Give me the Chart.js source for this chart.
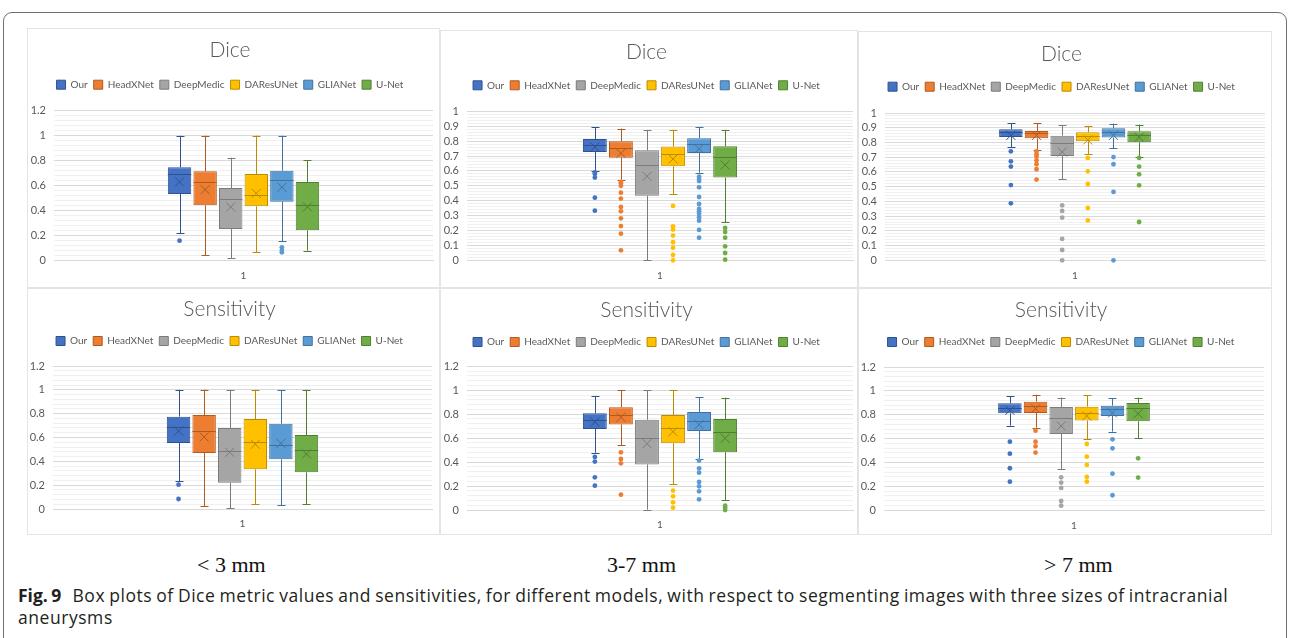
<!DOCTYPE html>
<html>
<head>
<meta charset="utf-8">
<script src="https://cdn.jsdelivr.net/npm/chart.js@4.4.1/dist/chart.umd.min.js"></script>
<style>
  html, body { margin: 0; padding: 0; background: #fff; }
  body { width: 1292px; height: 638px; position: relative; overflow: hidden; }
  .frame { position: absolute; left: 3px; top: 12px; width: 1284px; height: 700px;
           border: 1px solid #707070; border-radius: 9px; box-sizing: border-box; }
  .panel { position: absolute; }
  .panel canvas { position: absolute; left: 0; top: 0; }
  .panel .edge { position: absolute; left: 0; top: 0; right: 0; bottom: 0;
                 border: 1px solid #e4e4e4; pointer-events: none; }
  .size { position: absolute; top: 552px; font-family: "Liberation Serif", serif; font-size: 22px;
          color: #111; white-space: nowrap; }
  .caption { position: absolute; left: 18px; top: 584px; width: 1262px; font-family: "Open Sans", sans-serif;
             font-size: 17.5px; letter-spacing: 0.55px; word-spacing: -1px; line-height: 22px; color: #231f20; }
  .caption b { font-weight: 700; margin-right: 7px; letter-spacing: 0; }
</style>
</head>
<body>
<div class="frame"></div>

<div class="panel" id="p1" style="left:27px;top:28px;width:413px;height:260px"><canvas id="c1" width="413" height="260"></canvas><div class="edge"></div></div>
<div class="panel" id="p2" style="left:440px;top:30px;width:418px;height:258px"><canvas id="c2" width="418" height="258"></canvas><div class="edge"></div></div>
<div class="panel" id="p3" style="left:858px;top:31px;width:414px;height:257px"><canvas id="c3" width="414" height="257"></canvas><div class="edge"></div></div>
<div class="panel" id="p4" style="left:27px;top:288px;width:413px;height:247px"><canvas id="c4" width="413" height="247"></canvas><div class="edge"></div></div>
<div class="panel" id="p5" style="left:440px;top:288px;width:418px;height:247px"><canvas id="c5" width="418" height="247"></canvas><div class="edge"></div></div>
<div class="panel" id="p6" style="left:858px;top:288px;width:414px;height:247px"><canvas id="c6" width="414" height="247"></canvas><div class="edge"></div></div>

<div class="size" style="left:197px">&lt; 3 mm</div>
<div class="size" style="left:607px">3-7 mm</div>
<div class="size" style="left:1044px">&gt; 7 mm</div>

<div class="caption"><b>Fig. 9</b> Box plots of Dice metric values and sensitivities, for different models, with respect to segmenting images with three sizes of intracranial aneurysms</div>

<script>
// ---- data -------------------------------------------------------------
const models = ['Our', 'HeadXNet', 'DeepMedic', 'DAResUNet', 'GLIANet', 'U-Net'];
const categories = ['1'];

// each row: [lower whisker, Q1, median, Q3, upper whisker]
const diceUnder3 = [
  [0.221, 0.533, 0.693, 0.747, 1.000],
  [0.043, 0.443, 0.632, 0.715, 1.000],
  [0.021, 0.253, 0.490, 0.581, 0.824],
  [0.069, 0.435, 0.525, 0.693, 1.000],
  [0.155, 0.472, 0.645, 0.720, 1.000],
  [0.080, 0.243, 0.448, 0.629, 0.803]
];
const diceUnder3Mean = [0.630, 0.568, 0.430, 0.539, 0.587, 0.430];
const diceUnder3Outliers = [[0.16], [], [], [], [0.107, 0.085, 0.067], []];

const dice3to7 = [
  [0.602, 0.727, 0.776, 0.814, 0.893],
  [0.541, 0.689, 0.754, 0.799, 0.884],
  [0.000, 0.434, 0.642, 0.738, 0.872],
  [0.445, 0.631, 0.714, 0.763, 0.875],
  [0.588, 0.720, 0.783, 0.819, 0.895],
  [0.257, 0.555, 0.691, 0.765, 0.875]
];
const dice3to7Mean = [0.760, 0.718, 0.564, 0.680, 0.749, 0.640];
const dice3to7Outliers = [
  [0.59, 0.58, 0.555, 0.42, 0.333],
  [0.526, 0.515, 0.5, 0.454, 0.414, 0.358, 0.329, 0.282, 0.23, 0.179, 0.067],
  [],
  [0.365, 0.228, 0.206, 0.166, 0.121, 0.085, 0.036, 0.0],
  [0.561, 0.545, 0.532, 0.49, 0.425, 0.378, 0.345, 0.33, 0.313, 0.289, 0.266, 0.204, 0.152],
  [0.217, 0.19, 0.152, 0.094, 0.049, 0.004]
];

const diceOver7 = [
  [0.769, 0.837, 0.869, 0.889, 0.932],
  [0.751, 0.828, 0.862, 0.878, 0.932],
  [0.552, 0.708, 0.794, 0.846, 0.916],
  [0.722, 0.808, 0.842, 0.869, 0.912],
  [0.762, 0.833, 0.873, 0.896, 0.928],
  [0.704, 0.801, 0.848, 0.876, 0.921]
];
const diceOver7Mean = [0.848, 0.848, 0.735, 0.817, 0.848, 0.835];
const diceOver7Outliers = [
  [0.74, 0.672, 0.636, 0.511, 0.387],
  [0.74, 0.72, 0.704, 0.679, 0.652, 0.618, 0.548],
  [0.373, 0.335, 0.29, 0.145, 0.07, 0.0],
  [0.695, 0.604, 0.518, 0.355, 0.271],
  [0.701, 0.652, 0.464, 0.0],
  [0.695, 0.636, 0.584, 0.509, 0.26]
];

const sensUnder3 = [
  [0.232, 0.554, 0.685, 0.775, 1.000],
  [0.022, 0.470, 0.655, 0.789, 1.000],
  [0.008, 0.221, 0.490, 0.680, 1.000],
  [0.042, 0.333, 0.562, 0.755, 1.000],
  [0.034, 0.417, 0.534, 0.716, 1.000],
  [0.042, 0.308, 0.492, 0.621, 1.000]
];
const sensUnder3Mean = [0.655, 0.604, 0.476, 0.543, 0.551, 0.462];
const sensUnder3Outliers = [[0.204, 0.084], [], [], [], [], []];

const sens3to7 = [
  [0.479, 0.677, 0.754, 0.807, 0.949],
  [0.540, 0.715, 0.793, 0.857, 1.000],
  [0.003, 0.381, 0.601, 0.754, 1.000],
  [0.217, 0.557, 0.682, 0.793, 1.000],
  [0.429, 0.660, 0.743, 0.818, 0.941],
  [0.081, 0.482, 0.651, 0.760, 0.938]
];
const sens3to7Mean = [0.735, 0.774, 0.554, 0.654, 0.713, 0.599];
const sens3to7Outliers = [
  [0.443, 0.404, 0.273, 0.203],
  [0.482, 0.426, 0.39, 0.128],
  [],
  [0.161, 0.114, 0.064, 0.019],
  [0.412, 0.348, 0.312, 0.234, 0.198, 0.156, 0.089],
  [0.036, 0.019, 0.0]
];

const sensOver7 = [
  [0.709, 0.812, 0.860, 0.896, 0.957],
  [0.692, 0.815, 0.876, 0.910, 0.968],
  [0.346, 0.639, 0.770, 0.865, 0.943],
  [0.594, 0.751, 0.815, 0.868, 0.963],
  [0.659, 0.790, 0.848, 0.876, 0.938],
  [0.606, 0.745, 0.854, 0.899, 0.943]
];
const sensOver7Mean = [0.837, 0.851, 0.706, 0.790, 0.815, 0.809];
const sensOver7Outliers = [
  [0.575, 0.474, 0.352, 0.24],
  [0.667, 0.575, 0.536, 0.483],
  [0.276, 0.232, 0.187, 0.078, 0.039],
  [0.555, 0.449, 0.38, 0.279, 0.24],
  [0.594, 0.519, 0.307, 0.126],
  [0.435, 0.274]
];

// ---- styling ----------------------------------------------------------
const fills = ['#4472C4', '#ED7D31', '#A5A5A5', '#FFC000', '#5B9BD5', '#70AD47'];
const edges = ['#2F528F', '#AE5A21', '#7B7B7B', '#BC8C00', '#41719C', '#507E32'];
const textColor = '#595959';
const fontFamily = 'Lato, "Open Sans", sans-serif';
const legendPad = 6;

// per chart: title, data, y range and the box layout inside its canvas
const charts = [
  { id: 'c1', title: 'Dice', box: diceUnder3, mean: diceUnder3Mean, out: diceUnder3Outliers,
    yMax: 1.2, major: 0.2, left: 27, right: 7, titleC: 22.7, legendC: 56.7, plotTop: 82.7, bottom: 27.3 },
  { id: 'c2', title: 'Dice', box: dice3to7, mean: dice3to7Mean, out: dice3to7Outliers,
    yMax: 1.0, major: 0.1, left: 27, right: 5, titleC: 22, legendC: 55.3, plotTop: 81.3, bottom: 27.7 },
  { id: 'c3', title: 'Dice', box: diceOver7, mean: diceOver7Mean, out: diceOver7Outliers,
    yMax: 1.0, major: 0.1, left: 27, right: 7, titleC: 23, legendC: 55.7, plotTop: 82, bottom: 27.7 },
  { id: 'c4', title: 'Sensitivity', box: sensUnder3, mean: sensUnder3Mean, out: sensUnder3Outliers,
    yMax: 1.2, major: 0.2, left: 26, right: 8, titleC: 21, legendC: 53, plotTop: 78, bottom: 26 },
  { id: 'c5', title: 'Sensitivity', box: sens3to7, mean: sens3to7Mean, out: sens3to7Outliers,
    yMax: 1.2, major: 0.2, left: 27, right: 5, titleC: 22, legendC: 54, plotTop: 78.3, bottom: 25 },
  { id: 'c6', title: 'Sensitivity', box: sensOver7, mean: sensOver7Mean, out: sensOver7Outliers,
    yMax: 1.2, major: 0.2, left: 26, right: 8, titleC: 22, legendC: 54, plotTop: 79, bottom: 24.7 }
];

// whiskers, medians, mean crosses and outlier dots drawn on top of the Q1–Q3 bars
const boxExtras = {
  id: 'boxExtras',
  afterDatasetsDraw(chart, args, opts) {
    const { ctx } = chart;
    const y = chart.scales.y;
    chart.data.datasets.forEach((ds, i) => {
      const meta = chart.getDatasetMeta(i);
      const bar = meta.data[0];
      if (!bar) return;
      const stats = opts.box[i];
      const cx = Math.round(bar.x) + 0.5;
      const half = bar.width / 2;
      const cap = 4;
      ctx.save();
      ctx.lineWidth = 1;
      ctx.strokeStyle = edges[i];
      // whiskers
      const yLo = y.getPixelForValue(stats[0]);
      const yQ1 = y.getPixelForValue(stats[1]);
      const yQ3 = y.getPixelForValue(stats[3]);
      const yHi = y.getPixelForValue(stats[4]);
      ctx.beginPath();
      ctx.moveTo(cx, yQ3); ctx.lineTo(cx, yHi);
      ctx.moveTo(cx - cap, Math.round(yHi) + 0.5); ctx.lineTo(cx + cap, Math.round(yHi) + 0.5);
      ctx.moveTo(cx, yQ1); ctx.lineTo(cx, yLo);
      ctx.moveTo(cx - cap, Math.round(yLo) + 0.5); ctx.lineTo(cx + cap, Math.round(yLo) + 0.5);
      ctx.stroke();
      // median
      const yMed = Math.round(y.getPixelForValue(stats[2])) + 0.5;
      ctx.beginPath();
      ctx.moveTo(bar.x - half, yMed); ctx.lineTo(bar.x + half, yMed);
      ctx.stroke();
      // mean
      const ym = y.getPixelForValue(opts.mean[i]);
      const m = 4.5;
      ctx.beginPath();
      ctx.moveTo(bar.x - m, ym - m); ctx.lineTo(bar.x + m, ym + m);
      ctx.moveTo(bar.x - m, ym + m); ctx.lineTo(bar.x + m, ym - m);
      ctx.stroke();
      // outliers
      ctx.fillStyle = fills[i];
      opts.out[i].forEach(v => {
        ctx.beginPath();
        ctx.arc(bar.x, y.getPixelForValue(v), 2.4, 0, Math.PI * 2);
        ctx.fill();
      });
      ctx.restore();
    });
  }
};

function isMajor(v, major) {
  const r = v / major;
  return Math.abs(r - Math.round(r)) < 1e-6;
}

charts.forEach(c => {
  const titleSize = 21, titleLine = titleSize * 1.2;
  const legendFont = 10;
  const legendH = legendFont + legendPad + 10;        // one row of legend items
  const legendMid = legendPad + legendFont / 2;        // item centre below legend top
  const legendTop = c.legendC - legendMid;
  const padTop = c.titleC - titleLine / 2;
  const padBottom = legendTop - (c.titleC + titleLine / 2);
  const spacer = c.plotTop - (legendTop + legendH);

  new Chart(document.getElementById(c.id), {
    type: 'bar',
    data: {
      labels: categories,
      datasets: models.map((name, i) => ({
        label: name,
        data: [[c.box[i][1], c.box[i][3]]],
        backgroundColor: fills[i],
        borderColor: edges[i],
        borderWidth: 1,
        borderSkipped: false,
        categoryPercentage: 0.405,
        barPercentage: 0.915
      }))
    },
    options: {
      responsive: false,
      animation: false,
      devicePixelRatio: 1,
      layout: { padding: { left: 0, right: c.right, top: 0, bottom: 0 } },
      plugins: {
        title: {
          display: true, text: c.title, color: textColor,
          font: { family: fontFamily, size: titleSize, weight: '300', lineHeight: 1.2 },
          padding: { top: padTop, bottom: padBottom }
        },
        subtitle: {
          display: true, text: ' ', weight: 500,
          font: { size: 1, lineHeight: 1 },
          padding: { top: 0, bottom: spacer - 1 }
        },
        legend: {
          display: true, position: 'top',
          labels: {
            color: textColor, boxWidth: 9, boxHeight: 9, padding: legendPad,
            font: { family: fontFamily, size: legendFont }
          }
        },
        tooltip: { enabled: false },
        boxExtras: { box: c.box, mean: c.mean, out: c.out }
      },
      scales: {
        x: {
          grid: { display: false, drawTicks: false },
          border: { display: true, color: '#D9D9D9' },
          ticks: { color: textColor, padding: 9, font: { family: fontFamily, size: 10 } },
          afterFit(scale) { scale.height = c.bottom; }
        },
        y: {
          min: 0, max: c.yMax,
          grid: {
            drawTicks: false,
            color: ctx => isMajor(ctx.tick.value, c.major) ? '#D9D9D9' : '#F0F0F0',
            lineWidth: 1
          },
          border: { display: false },
          ticks: {
            stepSize: c.major / 5,
            autoSkip: false,
            padding: 8,
            color: textColor,
            font: { family: fontFamily, size: 11 },
            callback: v => isMajor(v, c.major) ? String(Number(v.toFixed(1))) : ''
          },
          afterFit(scale) { scale.width = c.left; }
        }
      }
    },
    plugins: [boxExtras]
  });
});
</script>
</body>
</html>
